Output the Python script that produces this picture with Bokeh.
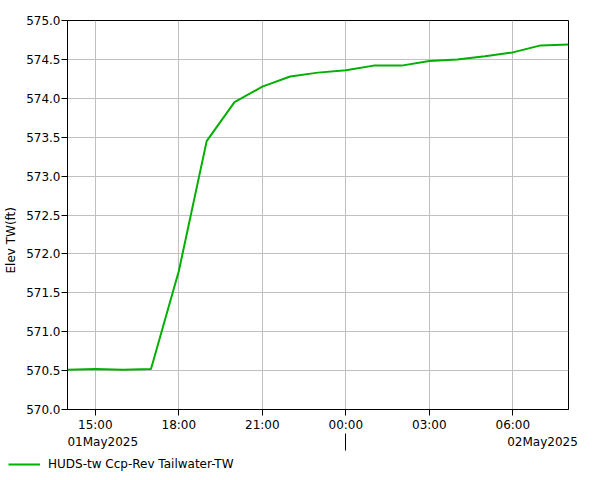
import pandas as pd
from bokeh.plotting import figure
from bokeh.layouts import column
from bokeh.models import (ColumnDataSource, DatetimeAxis, FixedTicker, DatetimeTickFormatter,
                          Range1d, Legend, LegendItem, NumeralTickFormatter, Title)
from bokeh.embed import file_html
from bokeh.resources import INLINE

# ---- data ----
times = ["2025-05-01 14:00", "2025-05-01 15:00", "2025-05-01 16:00", "2025-05-01 17:00",
         "2025-05-01 18:00", "2025-05-01 19:00", "2025-05-01 20:00", "2025-05-01 21:00",
         "2025-05-01 22:00", "2025-05-01 23:00", "2025-05-02 00:00", "2025-05-02 01:00",
         "2025-05-02 02:00", "2025-05-02 03:00", "2025-05-02 04:00", "2025-05-02 05:00",
         "2025-05-02 06:00", "2025-05-02 07:00", "2025-05-02 08:00"]
elev = [570.51, 570.52, 570.51, 570.52, 571.78, 573.45, 573.95, 574.15, 574.28, 574.33,
        574.36, 574.42, 574.42, 574.48, 574.50, 574.54, 574.59, 574.68, 574.69]
x_tick_times = ["2025-05-01 15:00", "2025-05-01 18:00", "2025-05-01 21:00", "2025-05-02 00:00",
                "2025-05-02 03:00", "2025-05-02 06:00"]
day_break = ["2025-05-02 00:00"]
day_label_times = ["2025-05-01 15:16", "2025-05-02 07:04"]
day_labels = ["01May2025", "02May2025"]
y_ticks = [570.0, 570.5, 571.0, 571.5, 572.0, 572.5, 573.0, 573.5, 574.0, 574.5, 575.0]
series_name = "HUDS-tw Ccp-Rev Tailwater-TW"
y_label = "Elev TW(ft)"

t = pd.to_datetime(times)
src = ColumnDataSource(dict(t=t, v=elev))

def ms(s):
    return pd.Timestamp(s).value / 1e6

FONT = "DejaVu Sans"
GREEN = "#00b000"

xr = Range1d(ms(times[0]), ms(times[-1]))
p = figure(width=601, height=452, frame_width=501, frame_height=389,
           x_axis_type="datetime", output_backend="svg", toolbar_location=None,
           x_range=xr, y_range=Range1d(570, 575),
           min_border_left=67, min_border_right=33, min_border_top=20, min_border_bottom=43)
p.background_fill_color = "white"
p.border_fill_color = "white"
p.outline_line_color = "black"
p.outline_line_width = 1

r = p.line("t", "v", source=src, line_color=GREEN, line_width=2)

# x axis
xa = p.xaxis[0]
xa.ticker = FixedTicker(ticks=[ms(s) for s in x_tick_times])
xa.formatter = DatetimeTickFormatter(hours="%H:%M", days="%H:%M", minutes="%H:%M")
xa.major_tick_out = 6
xa.major_tick_in = 0
xa.minor_tick_line_color = None
xa.major_label_standoff = 2
xa.major_label_text_font = FONT
xa.major_label_text_font_size = "12px"
xa.major_label_text_color = "black"
xa.axis_line_color = "black"

# y axis
ya = p.yaxis[0]
ya.ticker = FixedTicker(ticks=y_ticks)
ya.formatter = NumeralTickFormatter(format="0.0")
ya.major_tick_out = 6
ya.major_tick_in = 0
ya.minor_tick_line_color = None
ya.major_label_standoff = 1
ya.major_label_text_font = FONT
ya.major_label_text_font_size = "12px"
ya.major_label_text_color = "black"
ya.axis_line_color = "black"

for g in (p.xgrid[0], p.ygrid[0]):
    g.grid_line_color = "#c0c0c0"
    g.grid_line_width = 1
p.xgrid[0].ticker = xa.ticker
p.ygrid[0].ticker = ya.ticker

# day labels (major) + day divider (minor tick) axis
xa2 = DatetimeAxis(ticker=FixedTicker(ticks=[ms(s) for s in day_label_times],
                                      minor_ticks=[ms(s) for s in day_break]))
xa2.axis_line_color = None
xa2.major_tick_line_color = None
xa2.major_tick_in = 0
xa2.major_tick_out = 0
xa2.minor_tick_line_color = "black"
xa2.minor_tick_in = 1
xa2.minor_tick_out = 16
xa2.major_label_standoff = -16
xa2.major_label_overrides = {ms(s): lab for s, lab in zip(day_label_times, day_labels)}
xa2.major_label_text_font = FONT
xa2.major_label_text_font_size = "12px"
xa2.major_label_text_color = "black"
p.add_layout(xa2, "below")

# y label
p.add_layout(Title(text=y_label, align="left", offset=136, text_font=FONT,
                   text_font_size="12px", text_font_style="normal", text_color="black",
                   standoff=7, vertical_align="top"), "left")

# legend strip below the chart
p2 = figure(width=601, height=28, frame_width=601, frame_height=28,
            x_range=xr, y_range=Range1d(0, 1), output_backend="svg", toolbar_location=None,
            x_axis_location=None, y_axis_location=None, min_border=0)
p2.outline_line_color = None
p2.grid.visible = False
p2.background_fill_color = "white"
p2.border_fill_color = "white"
r2 = p2.line("t", "v", source=src, line_color=GREEN, line_width=2)
legend = Legend(items=[LegendItem(label=series_name, renderers=[r2])],
                location=(8, 6), orientation="horizontal",
                border_line_color=None, background_fill_alpha=0,
                padding=0, margin=0, spacing=0, glyph_width=32, glyph_height=20,
                label_height=20, label_standoff=8, label_text_font=FONT,
                label_text_font_size="12px", label_text_color="black")
p2.add_layout(legend)

layout = column(p, p2, spacing=0)
open("out.html", "w").write(file_html(layout, INLINE))
